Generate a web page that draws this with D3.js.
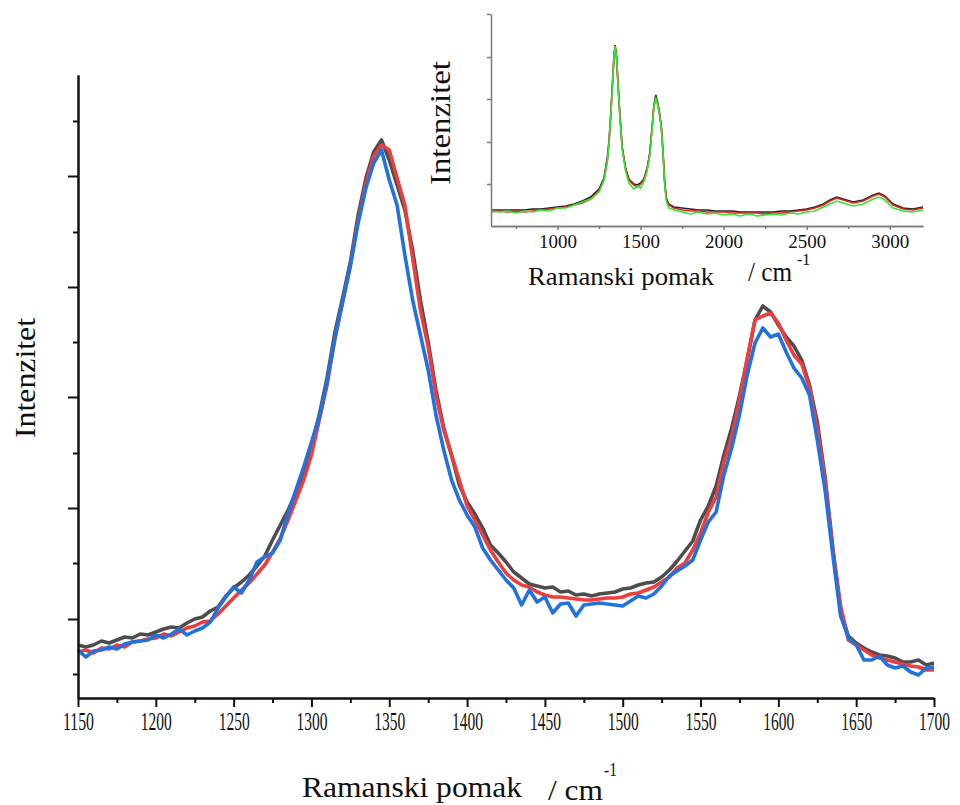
<!DOCTYPE html>
<html>
<head>
<meta charset="utf-8">
<script src="https://cdn.jsdelivr.net/npm/d3@7"></script>
<style>
  body { margin: 0; background: #fff; }
  text { font-family: "Liberation Serif", "Times New Roman", serif; fill: #111; }
</style>
</head>
<body>
<div id="chart"></div>
<script>
// main spectrum, 1150-1700 cm-1, every 5 cm-1 (intensity in a.u.)
const wave = d3.range(1150, 1701, 5);

const greySeries = [
  53, 51, 53, 57, 55, 58, 61, 60, 64, 63,
  66, 69, 71, 70, 75, 79, 81, 87, 91, 102,
  110, 116, 123, 132, 142, 158, 173, 188, 205, 226,
  253, 283, 320, 365, 400, 436, 483, 520, 546, 558,
  538, 513, 488, 448, 398, 356, 308, 270, 243, 213,
  196, 184, 170, 153, 145, 136, 126, 120, 114, 112,
  110, 111, 106, 107, 103, 104, 102, 104, 105, 106,
  109, 110, 113, 115, 116, 121, 128, 137, 147, 157,
  178, 192, 212, 243, 270, 302, 338, 378, 392, 386,
  373, 361, 352, 338, 313, 276, 221, 150, 86, 62,
  55, 50, 46, 43, 42, 40, 36, 36, 38, 33,
  35
];
const redSeries = [
  46, 48, 45, 50, 49, 53, 51, 56, 57, 59,
  60, 64, 62, 66, 70, 72, 76, 77, 84, 92,
  100, 108, 115, 124, 133, 146, 160, 178, 198, 218,
  243, 278, 313, 358, 396, 433, 478, 515, 542, 553,
  548, 520, 493, 440, 388, 351, 303, 268, 243, 218,
  192, 178, 163, 148, 136, 125, 118, 113, 111, 106,
  103, 101, 101, 100, 99, 98, 98, 99, 100, 100,
  101, 104, 105, 108, 111, 116, 121, 130, 135, 148,
  165, 186, 201, 236, 261, 298, 340, 378, 382, 385,
  375, 358, 343, 334, 310, 270, 218, 148, 92, 58,
  53, 48, 43, 40, 38, 36, 34, 32, 31, 28,
  28
];
const blueSeries = [
  48, 41, 47, 48, 51, 49, 54, 56, 57, 58,
  63, 60, 64, 69, 63, 67, 70, 76, 90, 101,
  111, 105, 118, 136, 141, 145, 158, 185, 208, 231,
  256, 280, 316, 360, 396, 432, 475, 510, 535, 548,
  518, 493, 443, 398, 363, 328, 283, 248, 218, 198,
  183, 171, 150, 138, 128, 118, 110, 93, 108, 96,
  101, 85, 94, 95, 82, 93, 94, 95, 94, 93,
  92, 97, 102, 100, 104, 112, 122, 127, 132, 138,
  158, 176, 186, 223, 250, 283, 323, 355, 370, 361,
  364, 346, 330, 320, 303, 258, 208, 143, 82, 60,
  53, 38, 38, 42, 33, 30, 32, 26, 23, 30,
  31
];

const xMajor = [1150, 1200, 1250, 1300, 1350, 1400, 1450, 1500, 1550, 1600, 1650, 1700];
const xMinor = [1175, 1225, 1275, 1325, 1375, 1425, 1475, 1525, 1575, 1625, 1675];
const yMajor = [79, 190, 301, 411, 522];
const yMinor = [24, 135, 245, 356, 466, 577];

// inset: full spectrum 600-3200 cm-1
const insetWave = [600, 650, 700, 750, 800, 850, 900, 950, 1000, 1050, 1100, 1150, 1200, 1250, 1280,
  1300, 1310, 1320, 1330, 1340, 1347, 1355, 1365, 1375, 1390, 1410, 1430, 1460, 1480, 1500,
  1520, 1540, 1555, 1570, 1580, 1592, 1605, 1615, 1625, 1635, 1645, 1655, 1670, 1700, 1750,
  1800, 1850, 1900, 1950, 2000, 2050, 2100, 2150, 2200, 2250, 2300, 2350, 2400, 2450, 2500,
  2550, 2600, 2640, 2680, 2720, 2780, 2840, 2900, 2935, 2970, 3020, 3080, 3140, 3200];
const insetBlack = [16, 16, 16, 16, 16, 17, 17, 18, 19, 20, 22, 25, 29, 37, 48,
  68, 85, 110, 140, 170, 181, 170, 140, 112, 78, 58, 47, 42, 41, 43,
  47, 58, 72, 100, 120, 131, 122, 112, 100, 75, 45, 28, 22, 19, 18,
  17, 16, 16, 15, 15, 15, 14, 14, 14, 14, 14, 15, 15, 16, 17,
  19, 22, 26, 29, 27, 24, 26, 31, 33, 30, 22, 18, 17, 19];
const insetRed = [14, 15, 14, 15, 14, 15, 16, 17, 18, 19, 21, 23, 27, 35, 46,
  65, 82, 108, 138, 169, 180, 171, 142, 113, 78, 57, 46, 41, 39, 42,
  46, 57, 71, 99, 119, 128, 121, 111, 99, 74, 44, 27, 21, 18, 16,
  15, 15, 14, 14, 14, 13, 13, 13, 13, 12, 13, 13, 14, 15, 16,
  18, 21, 25, 28, 26, 23, 25, 30, 32, 29, 21, 17, 16, 18];
const insetGreen = [15, 14, 15, 13, 15, 14, 16, 15, 18, 18, 21, 24, 27, 34, 46,
  64, 82, 107, 137, 168, 180, 170, 140, 111, 76, 55, 43, 37, 40, 38,
  44, 55, 70, 98, 118, 128, 120, 110, 98, 73, 42, 25, 18, 16, 14,
  12, 14, 12, 13, 11, 12, 10, 12, 10, 11, 12, 11, 13, 12, 14,
  15, 19, 22, 25, 23, 20, 22, 27, 29, 26, 18, 15, 14, 16];
const insetXMajor = [1000, 1500, 2000, 2500, 3000];
const insetXMinor = [750, 1250, 1750, 2250, 2750];
const insetYTicks = [42, 84, 127, 169, 212];

var width = 960, height = 805;
var svg = d3.select("#chart")
    .append("svg")
    .attr("width", width)
    .attr("height", height);

svg.append("rect").attr("width", width).attr("height", height).attr("fill", "#fff");

/* MAIN CHART */
var xScale = d3.scaleLinear().domain([1150, 1700]).range([78, 934]);
var yScale = d3.scaleLinear().domain([0, 623]).range([698, 75]);

var line = d3.line()
    .x(function (d, i) { return xScale(wave[i]); })
    .y(function (d) { return yScale(d); });

var series = [
    { values: greySeries, color: "#4d4d4d" },
    { values: redSeries, color: "#ee3d3d" },
    { values: blueSeries, color: "#2272de" }
];

svg.selectAll(".spec")
    .data(series)
    .join("path")
    .attr("class", "spec")
    .attr("d", function (d) { return line(d.values); })
    .attr("fill", "none")
    .attr("stroke", function (d) { return d.color; })
    .attr("stroke-width", 3.6)
    .attr("stroke-linejoin", "round");

// axes
var xAxisMinor = svg.append("g")
    .attr("transform", "translate(0,698)")
    .call(d3.axisBottom(xScale).tickValues(xMinor).tickSize(5).tickSizeOuter(0).tickFormat(""));
var xAxis = svg.append("g")
    .attr("transform", "translate(0,698)")
    .call(d3.axisBottom(xScale).tickValues(xMajor).tickSize(9).tickSizeOuter(0).tickPadding(5)
        .tickFormat(d3.format("d")));
var yAxisMinor = svg.append("g")
    .attr("transform", "translate(78,0)")
    .call(d3.axisLeft(yScale).tickValues(yMinor).tickSize(5).tickSizeOuter(0).tickFormat(""));
var yAxis = svg.append("g")
    .attr("transform", "translate(78,0)")
    .call(d3.axisLeft(yScale).tickValues(yMajor).tickSize(10).tickSizeOuter(0).tickFormat(""));

svg.selectAll(".domain, .tick line").attr("stroke", "#111").attr("stroke-width", 2);

xAxis.selectAll("text")
    .style("font-family", "'Liberation Serif', serif")
    .style("font-size", "26px")
    .attr("fill", "#111")
    .attr("textLength", 31)
    .attr("lengthAdjust", "spacingAndGlyphs");

// titles
svg.append("text")
    .attr("x", 302).attr("y", 797)
    .style("font-size", "30px")
    .attr("textLength", 220).attr("lengthAdjust", "spacingAndGlyphs")
    .text("Ramanski pomak");
svg.append("text")
    .attr("x", 548).attr("y", 800)
    .style("font-size", "30px")
    .attr("textLength", 55).attr("lengthAdjust", "spacingAndGlyphs")
    .text("/ cm");
svg.append("text")
    .attr("x", 604).attr("y", 776)
    .style("font-size", "18px")
    .attr("textLength", 13).attr("lengthAdjust", "spacingAndGlyphs")
    .text("-1");
svg.append("text")
    .attr("transform", "translate(35,378) rotate(-90)")
    .attr("text-anchor", "middle")
    .style("font-size", "30px")
    .attr("textLength", 120).attr("lengthAdjust", "spacingAndGlyphs")
    .text("Intenzitet");

/* INSET */
var ix = d3.scaleLinear().domain([600, 3200]).range([491, 923]);
var iy = d3.scaleLinear().domain([0, 212]).range([226, 14]);

var insetLine = d3.line()
    .x(function (d, i) { return ix(insetWave[i]); })
    .y(function (d) { return iy(d); });

var insetSeries = [
    { values: insetBlack, color: "#222" },
    { values: insetRed, color: "#e52222" },
    { values: insetGreen, color: "#33e633" }
];

svg.selectAll(".inset")
    .data(insetSeries)
    .join("path")
    .attr("class", "inset")
    .attr("d", function (d) { return insetLine(d.values); })
    .attr("fill", "none")
    .attr("stroke", function (d) { return d.color; })
    .attr("stroke-width", 1.6);

var ixMinor = svg.append("g")
    .attr("transform", "translate(0,226)")
    .call(d3.axisBottom(ix).tickValues(insetXMinor).tickSize(3).tickSizeOuter(0).tickFormat(""));
var ixAxis = svg.append("g")
    .attr("transform", "translate(0,226)")
    .call(d3.axisBottom(ix).tickValues(insetXMajor).tickSize(4).tickSizeOuter(0).tickPadding(5)
        .tickFormat(d3.format("d")));
var iyAxis = svg.append("g")
    .attr("transform", "translate(491,0)")
    .call(d3.axisLeft(iy).tickValues(insetYTicks).tickSize(4).tickSizeOuter(0).tickFormat(""));

[ixMinor, ixAxis, iyAxis].forEach(function (g) {
    g.selectAll(".domain, .tick line").attr("stroke", "#7a7a7a").attr("stroke-width", 1.5);
});
ixAxis.selectAll("text")
    .style("font-family", "'Liberation Serif', serif")
    .style("font-size", "19px")
    .attr("fill", "#111");

svg.append("text")
    .attr("x", 528).attr("y", 285)
    .style("font-size", "26px")
    .attr("textLength", 186).attr("lengthAdjust", "spacingAndGlyphs")
    .text("Ramanski pomak");
svg.append("text")
    .attr("x", 748).attr("y", 281)
    .style("font-size", "28px")
    .attr("textLength", 44).attr("lengthAdjust", "spacingAndGlyphs")
    .text("/ cm");
svg.append("text")
    .attr("x", 797).attr("y", 265)
    .style("font-size", "16px")
    .text("-1");
svg.append("text")
    .attr("transform", "translate(450,123) rotate(-90)")
    .attr("text-anchor", "middle")
    .style("font-size", "30px")
    .attr("textLength", 124).attr("lengthAdjust", "spacingAndGlyphs")
    .text("Intenzitet");
</script>
</body>
</html>
